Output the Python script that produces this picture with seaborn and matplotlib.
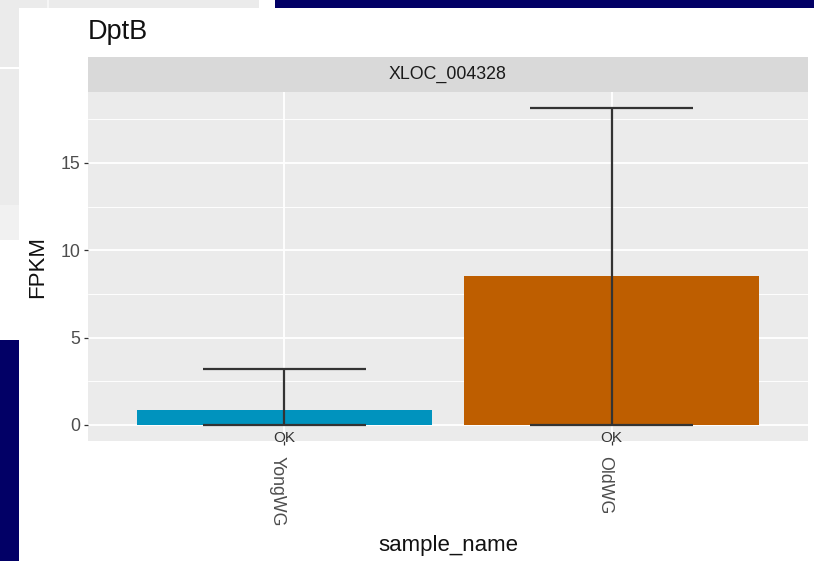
import numpy as np
import pandas as pd
import matplotlib
matplotlib.use('Agg')
import matplotlib.pyplot as plt
import seaborn as sns
from matplotlib.patches import Rectangle
from matplotlib.ticker import FixedLocator, MultipleLocator
from matplotlib.transforms import ScaledTranslation

# ---- data ----
samples = ['YongWG', 'OldWG']
fpkm = [0.88, 8.53]
ci_low = [0.0, 0.0]
ci_high = [3.18, 18.17]
bar_colors = ['#0093BE', '#BE5E00']
y_ticks = [0, 5, 10, 15]
title = 'DptB'
strip_label = 'XLOC_004328'
overlay_label = 'OK'

W, H = 814, 561
sns.set_theme(style='darkgrid')
plt.rcParams['font.family'] = ['Liberation Sans', 'DejaVu Sans']

fig = plt.figure(figsize=(W / 100, H / 100), dpi=100)
fig.patch.set_facecolor('#020066')


def frect(x0, y0, x1, y1, color, z=-5):
    fig.add_artist(Rectangle((x0 / W, 1 - y1 / H), (x1 - x0) / W, (y1 - y0) / H,
                             transform=fig.transFigure, facecolor=color,
                             edgecolor='none', zorder=z))


# background screenshot fragments
frect(0, 0, 259, 205, '#EBEBEB')
frect(0, 205, 259, 240, '#F1F1F1')
frect(0, 67, 259, 69, '#FFFFFF', z=-4)
frect(47, 0, 49, 205, '#F6F6F6', z=-4)
frect(259, 0, 275, 8, '#FFFFFF')
frect(0, 240, 19, 340, '#FFFFFF')
frect(19, 8, W, H, '#FFFFFF', z=-3)

# ---- main panel ----
ax = fig.add_axes([88 / W, 1 - 441 / H, 720 / W, 349 / H])
df = pd.DataFrame({'sample_name': samples, 'FPKM': fpkm})
sns.barplot(data=df, x='sample_name', y='FPKM', hue='sample_name', order=samples,
            hue_order=samples, palette=bar_colors, width=0.9, saturation=1,
            errorbar=None, legend=False, ax=ax, zorder=2,
            edgecolor='none', linewidth=0)

xpos = np.arange(len(samples))
ecol = '#333333'
ax.vlines(xpos, ci_low, ci_high, color=ecol, lw=1.6, zorder=4)
ax.hlines(ci_high, xpos - 0.25, xpos + 0.25, color=ecol, lw=1.6, zorder=4)
ax.hlines(ci_low, xpos - 0.25, xpos + 0.25, color=ecol, lw=1.6, zorder=4)

ax.set_xlim(-0.6, 1.6)
ax.set_ylim(-0.92, 19.06)
ax.set_facecolor('#EBEBEB')
ax.set_axisbelow(True)
ax.yaxis.set_major_locator(FixedLocator(y_ticks))
ax.yaxis.set_minor_locator(MultipleLocator(2.5))
ax.grid(which='major', color='white', lw=1.3)
ax.grid(which='minor', axis='y', color='white', lw=0.65)
ax.grid(which='minor', axis='x', visible=False)
for s in ax.spines.values():
    s.set_visible(False)
ax.tick_params(axis='both', which='major', length=3.0, width=0.9, color='#333333',
               labelcolor='#4D4D4D', labelsize=12.8, bottom=True, left=True)
ax.tick_params(axis='y', pad=2.5)
ax.tick_params(axis='x', pad=8)
ax.tick_params(which='minor', length=0)
ax.set_xticks(xpos)
ax.set_xticklabels(samples, rotation=-90, ha='center', va='top')
shift = ScaledTranslation(-7 / 100, 0, fig.dpi_scale_trans)
for lab in ax.get_xticklabels():
    lab.set_transform(lab.get_transform() + shift)
ax.set_xlabel('')
ax.set_ylabel('')

for x in xpos:
    ax.text(x, -0.72, overlay_label, ha='center', va='center', fontsize=11,
            color='#333333', clip_on=False, zorder=6)

# strip
axs = fig.add_axes([88 / W, 1 - 92 / H, 720 / W, 35 / H])
axs.set_facecolor('#D9D9D9')
axs.set_xticks([])
axs.set_yticks([])
axs.grid(False)
for s in axs.spines.values():
    s.set_visible(False)
axs.text(0.5, 0.5, strip_label, ha='center', va='center', fontsize=12.8,
         color='#1A1A1A', transform=axs.transAxes)

# titles
fig.text(88 / W, 1 - 39 / H, title, ha='left', va='baseline', fontsize=19.5, color='#111111')
fig.text(37.5 / W, 1 - 266.5 / H, 'FPKM', rotation=90, ha='center', va='center',
         fontsize=16, color='#111111')
fig.text(448 / W, 1 - 545 / H, 'sample_name', ha='center', va='center', fontsize=16,
         color='#111111')

fig.savefig('out.png', dpi=100, facecolor=fig.get_facecolor())
